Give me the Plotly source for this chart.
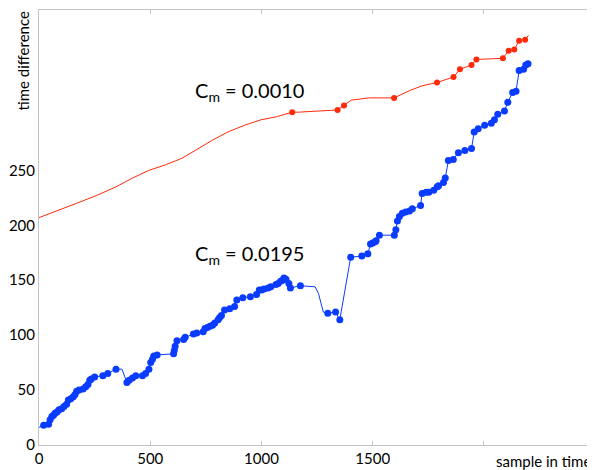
import plotly.graph_objects as go

# ---- data ----
blue_x = [0, 21, 43, 50, 58, 65, 72, 81, 90, 102, 112, 124, 132, 143, 154, 162, 169, 180, 198, 210,
          220, 228, 235, 250, 287, 309, 346, 373, 395, 405, 420, 435, 465, 479, 494, 502, 510, 516, 531,
          605, 608, 612, 620, 650, 657, 694, 709, 738, 746, 757, 768, 780, 790, 805, 812, 820, 834, 857,
          879, 889, 916, 950, 978, 990, 1000, 1012, 1030, 1042, 1065, 1075, 1086, 1095, 1101, 1110, 1123,
          1130, 1175, 1241, 1256, 1278, 1298, 1333, 1352, 1401, 1451, 1478, 1490, 1500, 1511, 1515, 1530,
          1597, 1604, 1611, 1620, 1633, 1648, 1665, 1678, 1715, 1722, 1740, 1752, 1774, 1790, 1796, 1818,
          1826, 1840, 1862, 1885, 1914, 1944, 1956, 1974, 2003, 2033, 2047, 2062, 2092, 2107, 2129, 2144,
          2158, 2178, 2188, 2198, 2203]
blue_y = [16, 18, 19, 23, 26, 27, 29, 30, 32, 33, 35, 37, 41, 42, 44, 46, 49, 50, 51, 53,
          55, 59, 60, 62, 63, 65, 69, 69, 57, 59, 61, 63, 63, 65, 69, 75, 78, 81, 82,
          83, 86, 90, 95, 96, 98, 101, 102, 103, 106, 107, 108, 109, 111, 114, 116, 118, 123, 124,
          126, 132, 134, 135, 137, 141, 141, 142, 143, 144, 146, 147, 149, 150, 152, 151, 147,
          143, 145, 144, 138, 121, 120, 121, 114, 171, 172, 174, 183, 184, 185, 186, 191,
          191, 196, 204, 208, 211, 212, 213, 215, 218, 229, 230, 230, 232, 235, 236, 239,
          243, 259, 260, 266, 268, 270, 285, 288, 291, 293, 296, 301, 304, 312, 321, 322,
          341, 342, 346, 347, 349]
blue_detected = [0, 1, 1, 1, 1, 1, 1, 1, 1, 1, 1, 1, 1, 1, 1, 1, 1, 1, 1, 1,
                 1, 1, 1, 1, 1, 1, 1, 0, 1, 1, 1, 1, 1, 1, 1, 1, 1, 1, 1,
                 1, 1, 1, 1, 1, 1, 1, 1, 1, 1, 1, 1, 1, 1, 1, 1, 1, 1, 1,
                 1, 1, 1, 1, 1, 1, 1, 1, 1, 1, 1, 1, 1, 1, 1, 1, 1,
                 1, 1, 0, 0, 0, 1, 1, 1, 1, 1, 1, 1, 1, 1, 1, 1,
                 1, 1, 1, 1, 1, 1, 1, 1, 1, 1, 1, 1, 1, 1, 1, 1,
                 1, 1, 1, 1, 1, 1, 1, 1, 1, 1, 1, 1, 1, 1, 1, 1,
                 1, 1, 1, 1, 0]

red_x = [0, 80, 169, 257, 346, 420, 494, 568, 642, 701, 775, 849, 923, 997, 1071, 1138,
         1167, 1342, 1371, 1404, 1485, 1596,
         1670, 1722, 1789, 1863, 1892, 1944, 1966, 2085, 2111, 2136, 2158, 2185, 2200]
red_y = [207, 213, 220, 227, 235, 243, 250, 255, 261, 268, 277, 285, 291, 296, 299, 303,
         303, 305, 309, 314, 316, 316,
         323, 327, 330, 335, 342, 346, 351, 352, 359, 360, 368, 369, 373]
red_detected = [0, 0, 0, 0, 0, 0, 0, 0, 0, 0, 0, 0, 0, 0, 0, 1,
                0, 1, 1, 0, 0, 1,
                0, 0, 1, 1, 1, 1, 1, 1, 1, 1, 1, 1, 0]

x_ticks = [0, 500, 1000, 1500, 2000]
x_tick_labels = ["0", "500", "1000", "1500", ""]
y_ticks = [0, 50, 100, 150, 200, 250]
y_tick_labels = ["0", "50", "100", "150", "200", "250"]

label_red = "C<sub>m</sub> = 0.0010"
label_blue = "C<sub>m</sub> = 0.0195"
x_title = "sample in time"
y_title = "time difference"

BLUE = "#0a3cff"
RED = "#ff2a0a"
FONT = "Lato"

fig = go.Figure()
fig.add_trace(go.Scatter(x=red_x, y=red_y, mode="lines",
                         line=dict(color=RED, width=1), hoverinfo="skip"))
fig.add_trace(go.Scatter(x=[a for a, f in zip(red_x, red_detected) if f],
                         y=[b for b, f in zip(red_y, red_detected) if f],
                         mode="markers", marker=dict(color=RED, size=6)))
fig.add_trace(go.Scatter(x=blue_x, y=blue_y, mode="lines",
                         line=dict(color=BLUE, width=1), hoverinfo="skip"))
fig.add_trace(go.Scatter(x=[a for a, f in zip(blue_x, blue_detected) if f],
                         y=[b for b, f in zip(blue_y, blue_detected) if f],
                         mode="markers", marker=dict(color=BLUE, size=7)))

fig.add_annotation(x=945, y=322, text=label_red, showarrow=False,
                   font=dict(family=FONT, size=20, color="black"))
fig.add_annotation(x=945, y=173, text=label_blue, showarrow=False,
                   font=dict(family=FONT, size=20, color="black"))
fig.add_annotation(xref="paper", yref="paper", x=1.0, y=0, yshift=-16, xanchor="right",
                   yanchor="middle", text=x_title, showarrow=False,
                   font=dict(family=FONT, size=15, color="black"))
fig.add_annotation(xref="paper", yref="paper", x=0, xshift=-17, y=1.0, xanchor="center",
                   yanchor="top", textangle=-90, text=y_title, showarrow=False,
                   font=dict(family=FONT, size=15, color="black"))

axis_col = "#c4c4c4"
# the page body adds an 8px margin, so the figure is 8px smaller and shifted
fig.update_layout(
    width=587, height=462,
    margin=dict(l=24, r=2, t=1, b=25),
    paper_bgcolor="white", plot_bgcolor="white",
    showlegend=False,
    font=dict(family=FONT, size=15, color="black"),
    xaxis=dict(range=[0, 2490], tickvals=x_ticks, ticktext=x_tick_labels,
               showgrid=False, zeroline=False, showline=True, linecolor=axis_col,
               linewidth=1, mirror="ticks", ticks="inside", ticklen=4,
               tickcolor=axis_col, tickfont=dict(family=FONT, size=15)),
    yaxis=dict(range=[0, 396], tickvals=y_ticks, ticktext=y_tick_labels,
               showgrid=False, zeroline=False, showline=True, linecolor=axis_col,
               linewidth=1, ticks="", tickfont=dict(family=FONT, size=15)),
)

fig.write_html("out.html")
